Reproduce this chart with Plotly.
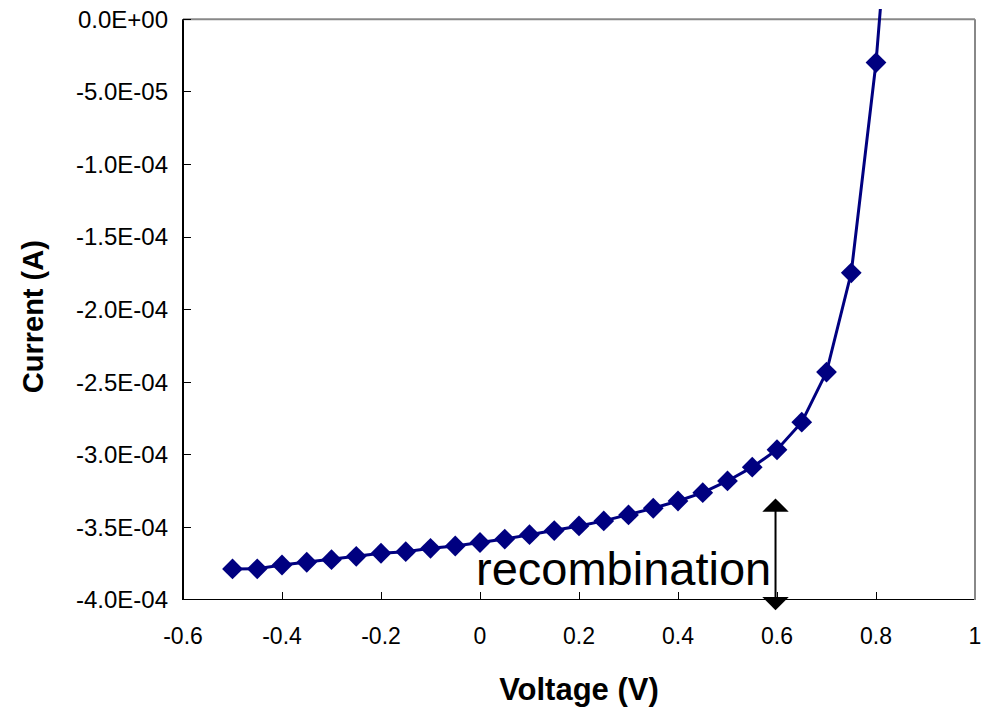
import plotly.graph_objects as go

voltage = [-0.5, -0.45, -0.4, -0.35, -0.3, -0.25, -0.2, -0.15, -0.1, -0.05,
           0.0, 0.05, 0.1, 0.15, 0.2, 0.25, 0.3, 0.35, 0.4, 0.45,
           0.5, 0.55, 0.6, 0.65, 0.7, 0.75, 0.8, 0.85]
current = [-3.786e-4, -3.785e-4, -3.759e-4, -3.740e-4, -3.722e-4, -3.699e-4, -3.678e-4,
           -3.667e-4, -3.644e-4, -3.628e-4, -3.604e-4, -3.580e-4, -3.550e-4, -3.522e-4,
           -3.490e-4, -3.455e-4, -3.414e-4, -3.368e-4, -3.318e-4, -3.261e-4, -3.180e-4,
           -3.085e-4, -2.965e-4, -2.775e-4, -2.430e-4, -1.746e-4, -0.298e-4, 1.80e-4]

x_ticks = [-0.6, -0.4, -0.2, 0.0, 0.2, 0.4, 0.6, 0.8, 1.0]
x_tick_labels = ["-0.6", "-0.4", "-0.2", "0", "0.2", "0.4", "0.6", "0.8", "1"]
y_ticks = [0.0, -5e-5, -1e-4, -1.5e-4, -2e-4, -2.5e-4, -3e-4, -3.5e-4, -4e-4]
y_tick_labels = ["0.0E+00", "-5.0E-05", "-1.0E-04", "-1.5E-04", "-2.0E-04",
                 "-2.5E-04", "-3.0E-04", "-3.5E-04", "-4.0E-04"]

arrow_x = 0.597
arrow_top = -3.29e-4
arrow_bottom = -4.07e-4
label_text = "recombination"

FONT = "Liberation Sans, Arial, sans-serif"
NAVY = "#000080"

x_min, x_max = -0.6, 1.0
y_min, y_zero = -4e-4, 0.0
y_top = y_zero + (y_zero - y_min) * (591 / 580.7 - 1)

fig = go.Figure()
fig.add_trace(go.Scatter(
    x=voltage, y=current, mode="lines+markers",
    line=dict(color=NAVY, width=3),
    marker=dict(symbol="diamond", size=16, color=NAVY),
    showlegend=False,
))

# frame
fig.add_shape(type="line", xref="paper", yref="y", x0=0, x1=0, y0=y_min, y1=y_zero,
              line=dict(color="black", width=2), layer="below")
fig.add_shape(type="line", xref="paper", yref="y", x0=0, x1=1, y0=y_min, y1=y_min,
              line=dict(color="black", width=2), layer="below")
fig.add_shape(type="line", xref="paper", yref="y", x0=0, x1=1, y0=y_zero, y1=y_zero,
              line=dict(color="#888888", width=2), layer="below")
fig.add_shape(type="line", xref="paper", yref="y", x0=1, x1=1, y0=y_min, y1=y_zero,
              line=dict(color="#888888", width=2), layer="below")

# double-headed arrow
fig.add_annotation(x=arrow_x, y=arrow_bottom, ax=arrow_x, ay=arrow_top,
                   xref="x", yref="y", axref="x", ayref="y",
                   showarrow=True, arrowhead=1, startarrowhead=1, arrowside="end+start",
                   arrowsize=2.2, startarrowsize=2.2, arrowwidth=2, arrowcolor="black",
                   standoff=0, startstandoff=0, text="")
fig.add_annotation(x=arrow_x, y=-3.786e-4, xref="x", yref="y", xanchor="right",
                   yanchor="middle", text=label_text, showarrow=False,
                   font=dict(family=FONT, size=47, color="black"), xshift=-3)

# y-axis title
fig.add_annotation(x=-0.189, y=0.479, xref="paper", yref="paper", xanchor="center",
                   yanchor="middle", text="<b>Current (A)</b>", textangle=-90,
                   showarrow=False, font=dict(family=FONT, size=29, color="black"))

fig.update_layout(
    width=983, height=711,
    margin=dict(l=183, r=8, t=9, b=111, autoexpand=False),
    paper_bgcolor="white", plot_bgcolor="white",
    font=dict(family=FONT, color="black"),
    xaxis=dict(
        range=[x_min, x_max], tickvals=x_ticks, ticktext=x_tick_labels,
        ticks="inside", ticklen=8, tickwidth=1, tickcolor="black",
        showgrid=False, zeroline=False, showline=False, automargin=False,
        tickfont=dict(family=FONT, size=23), ticklabelstandoff=20,
        title=dict(text="<b>Voltage (V)</b>", font=dict(family=FONT, size=31), standoff=30),
    ),
    yaxis=dict(
        range=[y_min, y_top], tickvals=y_ticks, ticktext=y_tick_labels,
        ticks="inside", ticklen=8, tickwidth=1, tickcolor="black",
        showgrid=False, zeroline=False, showline=False, automargin=False,
        tickfont=dict(family=FONT, size=24), ticklabelstandoff=14,
    ),
)

fig.write_html("out.html")
